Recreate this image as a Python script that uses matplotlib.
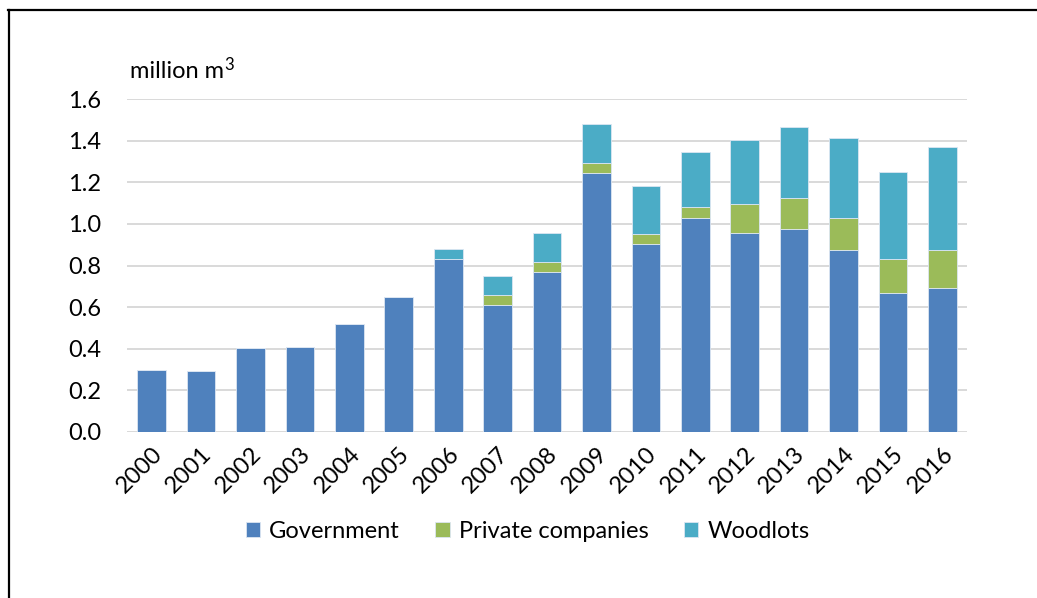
import matplotlib.pyplot as plt
import numpy as np
from matplotlib.lines import Line2D

years = [str(y) for y in range(2000, 2017)]
government = [0.30, 0.292, 0.402, 0.410, 0.519, 0.649, 0.830, 0.609, 0.770,
              1.246, 0.904, 1.028, 0.957, 0.976, 0.875, 0.669, 0.694]
private = [0, 0, 0, 0, 0, 0, 0, 0.048, 0.048,
           0.048, 0.048, 0.051, 0.138, 0.148, 0.153, 0.161, 0.180]
woodlots = [0, 0, 0, 0, 0, 0, 0.047, 0.093, 0.137,
            0.186, 0.230, 0.268, 0.306, 0.343, 0.383, 0.420, 0.495]

plt.rcParams['font.family'] = ['Lato', 'DejaVu Sans']
fs = 17

fig = plt.figure(figsize=(10.37, 5.98), dpi=100)
ax = fig.add_axes([0.1225, 0.2776, 0.81, 0.5568])

x = np.arange(len(years))
gov = np.array(government)
priv = np.array(private)
wood = np.array(woodlots)
w = 0.58
ax.bar(x, gov, w, color='#4F81BD', edgecolor='#DCE6F2', linewidth=0.6, label='Government', zorder=3)
ax.bar(x, priv, w, bottom=gov, color='#9BBB59', edgecolor='#DCE6F2', linewidth=0.6,
       label='Private companies', zorder=3)
ax.bar(x, wood, w, bottom=gov + priv, color='#4BACC6', edgecolor='#DCE6F2', linewidth=0.6,
       label='Woodlots', zorder=3)

ax.set_xlim(-0.5, len(years) - 0.5)
ax.set_ylim(0, 1.6)
ax.set_yticks(np.arange(0, 1.61, 0.2))
ax.set_yticklabels([f'{v:.1f}' for v in np.arange(0, 1.61, 0.2)])
ax.set_xticks(x)
ax.set_xticklabels(years, rotation=45, ha='right', rotation_mode='anchor')
ax.tick_params(axis='both', length=0, labelsize=fs, colors='#000000')
ax.tick_params(axis='y', pad=18.5)
ax.tick_params(axis='x', pad=8)
for s in ax.spines.values():
    s.set_visible(False)
ax.grid(axis='y', color='#D9D9D9', linewidth=1.4, zorder=0)
ax.set_axisbelow(True)

# unit label with a hand-placed superscript
unit = fig.text(0.1255, 0.87, 'million m', fontsize=fs, color='#000000')
ax.annotate('3', xy=(1, 1), xycoords=unit, xytext=(0, 2.5), textcoords='offset points',
            ha='left', va='top', fontsize=12, color='#000000', annotation_clip=False)

fig.legend(loc='center', bbox_to_anchor=(0.509, 0.112), ncol=3, frameon=False,
           fontsize=fs, handlelength=0.6, handleheight=0.6, handletextpad=0.4,
           columnspacing=1.5)

# frame lines along top and left edges
fig.add_artist(Line2D([0.008, 1.0], [0.983, 0.983], color='black', linewidth=1.6,
                      transform=fig.transFigure))
fig.add_artist(Line2D([0.0087, 0.0087], [0.0, 0.983], color='black', linewidth=1.6,
                      transform=fig.transFigure))

fig.savefig('out.png', dpi=100)
